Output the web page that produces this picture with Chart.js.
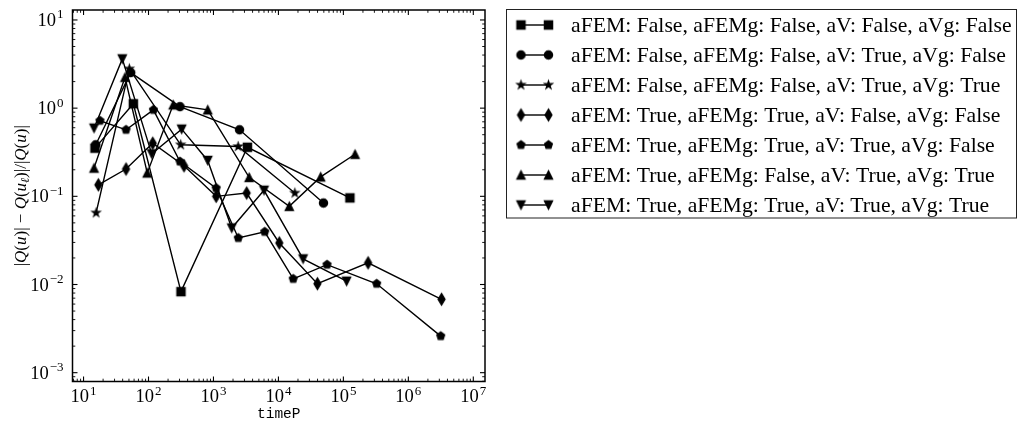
<!DOCTYPE html>
<html>
<head>
<meta charset="utf-8">
<script src="https://cdn.jsdelivr.net/npm/chart.js@4/dist/chart.umd.min.js"></script>
<style>
  html, body { margin: 0; padding: 0; background: #fff; }
  canvas { display: block; }
</style>
</head>
<body>
<canvas id="chart" width="1019" height="421"></canvas>
<script>
// relative error |Q(u) - Q(u_l)| / |Q(u)| against timeP, one run per flag setting
var timeFFFF = [15.0, 58.4, 316, 3330, 126000];
var errFFFF = [0.352, 1.12, 0.0083, 0.36, 0.096];

var timeFFTF = [15.4, 53.2, 305, 2520, 49400];
var errFFTF = [0.384, 2.53, 1.04, 0.568, 0.084];

var timeFFTT = [15.6, 50.7, 313, 2400, 17900];
var errFFTT = [0.065, 2.79, 0.384, 0.367, 0.109];

var timeTTFF = [16.9, 45.1, 116, 352, 1100, 3240, 10300, 39800, 240000, 3240000];
var errTTFF = [0.135, 0.204, 0.40, 0.222, 0.100, 0.109, 0.0296, 0.0102, 0.0176, 0.0068];

var timeTTTF = [17.9, 45.1, 119, 305, 1100, 2410, 6150, 16900, 56000, 325000, 3150000];
var errTTTF = [0.72, 0.568, 0.957, 0.248, 0.124, 0.0337, 0.0396, 0.0116, 0.0168, 0.0102, 0.0026];

var timeTFTT = [14.5, 43.5, 95.6, 240, 815, 3540, 14700, 44700, 151000];
var errTFTT = [0.209, 2.24, 0.184, 1.09, 0.957, 0.164, 0.077, 0.166, 0.30];

var timeTTTT = [14.5, 39.5, 112, 324, 815, 1910, 6000, 24000, 112000];
var errTTTT = [0.593, 3.62, 0.303, 0.578, 0.255, 0.0437, 0.117, 0.0195, 0.0109];

var seriesLabels = [
  'aFEM: False, aFEMg: False, aV: False, aVg: False',
  'aFEM: False, aFEMg: False, aV: True, aVg: False',
  'aFEM: False, aFEMg: False, aV: True, aVg: True',
  'aFEM: True, aFEMg: True, aV: False, aVg: False',
  'aFEM: True, aFEMg: True, aV: True, aVg: False',
  'aFEM: True, aFEMg: False, aV: True, aVg: True',
  'aFEM: True, aFEMg: True, aV: True, aVg: True'
];
var seriesMarkers = ['square', 'circle', 'star', 'thinDiamond', 'pentagon', 'triangleUp', 'triangleDown'];

var xTickExps = [1, 2, 3, 4, 5, 6, 7];
var yTickExps = [-3, -2, -1, 0, 1];
var xMin = Math.pow(10, 0.83), xMax = Math.pow(10, 7.18);
var yMin = Math.pow(10, -3.1), yMax = Math.pow(10, 1.113);

// filled black markers, drawn once and used as Chart.js pointStyle images
function markerCanvas(kind) {
  var c = document.createElement('canvas');
  c.width = 19; c.height = 19;
  var g = c.getContext('2d');
  var s = 8.3, cx = 9.5, cy = 9.5, i, a, r;
  g.fillStyle = '#000';
  g.strokeStyle = '#000';
  g.lineWidth = 1.2;
  g.beginPath();
  if (kind === 'square') {
    g.rect(cx - s / 2, cy - s / 2, s, s);
  } else if (kind === 'circle') {
    g.arc(cx, cy, s / 2, 0, Math.PI * 2);
  } else if (kind === 'star') {
    for (i = 0; i < 10; i++) {
      r = i % 2 ? s / 2 * 0.382 : s / 2;
      a = -Math.PI / 2 + i * Math.PI / 5;
      if (i === 0) g.moveTo(cx + r * Math.cos(a), cy + r * Math.sin(a));
      else g.lineTo(cx + r * Math.cos(a), cy + r * Math.sin(a));
    }
  } else if (kind === 'thinDiamond') {
    var h = s * Math.SQRT2 / 2, w = h * 0.6;
    g.moveTo(cx, cy - h); g.lineTo(cx + w, cy); g.lineTo(cx, cy + h); g.lineTo(cx - w, cy);
  } else if (kind === 'pentagon') {
    for (i = 0; i < 5; i++) {
      a = -Math.PI / 2 + i * 2 * Math.PI / 5;
      if (i === 0) g.moveTo(cx + s / 2 * Math.cos(a), cy + s / 2 * Math.sin(a));
      else g.lineTo(cx + s / 2 * Math.cos(a), cy + s / 2 * Math.sin(a));
    }
  } else if (kind === 'triangleUp') {
    g.moveTo(cx, cy - s / 2); g.lineTo(cx + s / 2, cy + s / 2); g.lineTo(cx - s / 2, cy + s / 2);
  } else {
    g.moveTo(cx, cy + s / 2); g.lineTo(cx + s / 2, cy - s / 2); g.lineTo(cx - s / 2, cy - s / 2);
  }
  g.closePath();
  g.fill();
  g.stroke();
  return c;
}

function points(xs, ys) {
  return xs.map(function(x, i) { return { x: x, y: ys[i] }; });
}

var seriesTimes = [timeFFFF, timeFFTF, timeFFTT, timeTTFF, timeTTTF, timeTFTT, timeTTTT];
var seriesErrs = [errFFFF, errFFTF, errFFTT, errTTFF, errTTTF, errTFTT, errTTTT];

var datasets = seriesLabels.map(function(label, i) {
  var img = markerCanvas(seriesMarkers[i]);
  return {
    label: label,
    data: points(seriesTimes[i], seriesErrs[i]),
    showLine: true,
    borderColor: '#000',
    backgroundColor: '#000',
    borderWidth: 1.4,
    pointStyle: img,
    pointRadius: 5,
    pointHoverRadius: 5
  };
});

// "10" with a raised exponent
function drawPower(ctx, exp, x, y, align) {
  var base = '10', sup = (exp < 0 ? '\u2212' : '') + Math.abs(exp);
  ctx.font = '18.5px "Liberation Serif"';
  var wb = ctx.measureText(base).width;
  ctx.font = '13px "Liberation Serif"';
  var ws = ctx.measureText(sup).width;
  var start = align === 'right' ? x - wb - ws - 1 : x - (wb + ws + 1) / 2;
  ctx.font = '18.5px "Liberation Serif"';
  ctx.fillText(base, start, y);
  ctx.font = '13px "Liberation Serif"';
  ctx.fillText(sup, start + wb + 1, y - 7.5);
}

function drawRuns(ctx, runs, x, y) {
  var total = 0;
  runs.forEach(function(r) { ctx.font = r[1]; total += ctx.measureText(r[0]).width; });
  var cur = x - total / 2;
  runs.forEach(function(r) {
    ctx.font = r[1];
    ctx.fillText(r[0], cur, y + (r[2] || 0));
    cur += ctx.measureText(r[0]).width;
  });
}

var axesDecor = {
  id: 'axesDecor',
  afterDatasetsDraw: function(chart) {
    var ctx = chart.ctx, a = chart.chartArea;
    var xs = chart.scales.x, ys = chart.scales.y;
    ctx.save();
    ctx.strokeStyle = '#000';
    ctx.fillStyle = '#000';

    function seg(x1, y1, x2, y2) { ctx.beginPath(); ctx.moveTo(x1, y1); ctx.lineTo(x2, y2); ctx.stroke(); }
    function tickX(v, len) {
      var p = xs.getPixelForValue(v);
      if (p < a.left || p > a.right) return;
      seg(p, a.bottom, p, a.bottom - len);
      seg(p, a.top, p, a.top + len);
    }
    function tickY(v, len) {
      var p = ys.getPixelForValue(v);
      if (p < a.top || p > a.bottom) return;
      seg(a.left, p, a.left + len, p);
      seg(a.right, p, a.right - len, p);
    }

    // minor ticks
    ctx.lineWidth = 0.9;
    var e, m;
    for (e = 0; e <= 7; e++) for (m = 2; m <= 9; m++) tickX(m * Math.pow(10, e), 2.8);
    for (e = -4; e <= 1; e++) for (m = 2; m <= 9; m++) tickY(m * Math.pow(10, e), 2.8);
    // major ticks
    ctx.lineWidth = 1.1;
    xTickExps.forEach(function(k) { tickX(Math.pow(10, k), 5); });
    yTickExps.forEach(function(k) { tickY(Math.pow(10, k), 5); });

    // frame
    ctx.lineWidth = 1.5;
    ctx.strokeRect(a.left, a.top, a.right - a.left, a.bottom - a.top);

    // tick labels
    ctx.textBaseline = 'alphabetic';
    ctx.textAlign = 'left';
    xTickExps.forEach(function(k) {
      drawPower(ctx, k, xs.getPixelForValue(Math.pow(10, k)), a.bottom + 20.5, 'center');
    });
    yTickExps.forEach(function(k) {
      drawPower(ctx, k, a.left - 9, ys.getPixelForValue(Math.pow(10, k)) + 6, 'right');
    });

    // axis titles
    ctx.font = '14.5px "Liberation Mono"';
    ctx.textAlign = 'center';
    ctx.fillText('timeP', (a.left + a.right) / 2, 418);

    ctx.textAlign = 'left';
    ctx.save();
    ctx.translate(21, (a.top + a.bottom) / 2);
    ctx.rotate(-Math.PI / 2);
    var up = '17px "Liberation Serif"', it = 'italic 17px "Liberation Serif"', sub = 'italic 12px "Liberation Serif"';
    drawRuns(ctx, [
      ['|', up], ['Q', it], ['(', up], ['u', it], [')|', up], [' \u2212 ', up],
      ['Q', it], ['(', up], ['u', it], ['\u2113', sub, 3], [')|/|', up],
      ['Q', it], ['(', up], ['u', it], [')|', up]
    ], 0, 5);
    ctx.restore();

    // legend
    var lx = 506.5, ly = 9.5, lw = 510, lh = 208.5;
    ctx.lineWidth = 1;
    ctx.strokeStyle = '#222';
    ctx.strokeRect(lx, ly, lw, lh);
    ctx.strokeStyle = '#000';
    ctx.font = '21.7px "Liberation Serif"';
    chart.data.datasets.forEach(function(ds, i) {
      var ry = 25 + i * 30;
      ctx.lineWidth = 1.4;
      seg(521, ry, 548.5, ry);
      var img = ds.pointStyle;
      ctx.drawImage(img, 521 - img.width / 2, ry - img.height / 2);
      ctx.drawImage(img, 548.5 - img.width / 2, ry - img.height / 2);
      ctx.fillText(ds.label, 571, ry + 7);
    });
    ctx.restore();
  }
};

new Chart(document.getElementById('chart'), {
  type: 'scatter',
  data: { datasets: datasets },
  options: {
    responsive: false,
    animation: false,
    events: [],
    layout: { padding: { left: 72.5, right: 534, top: 10, bottom: 39.5 } },
    plugins: {
      legend: { display: false },
      tooltip: { enabled: false }
    },
    scales: {
      x: {
        type: 'logarithmic',
        min: xMin,
        max: xMax,
        bounds: 'data',
        grid: { display: false },
        border: { display: false },
        ticks: { display: false },
        afterFit: function(s) { s.height = 0; }
      },
      y: {
        type: 'logarithmic',
        min: yMin,
        max: yMax,
        bounds: 'data',
        grid: { display: false },
        border: { display: false },
        ticks: { display: false },
        afterFit: function(s) { s.width = 0; }
      }
    }
  },
  plugins: [axesDecor]
});
</script>
</body>
</html>
